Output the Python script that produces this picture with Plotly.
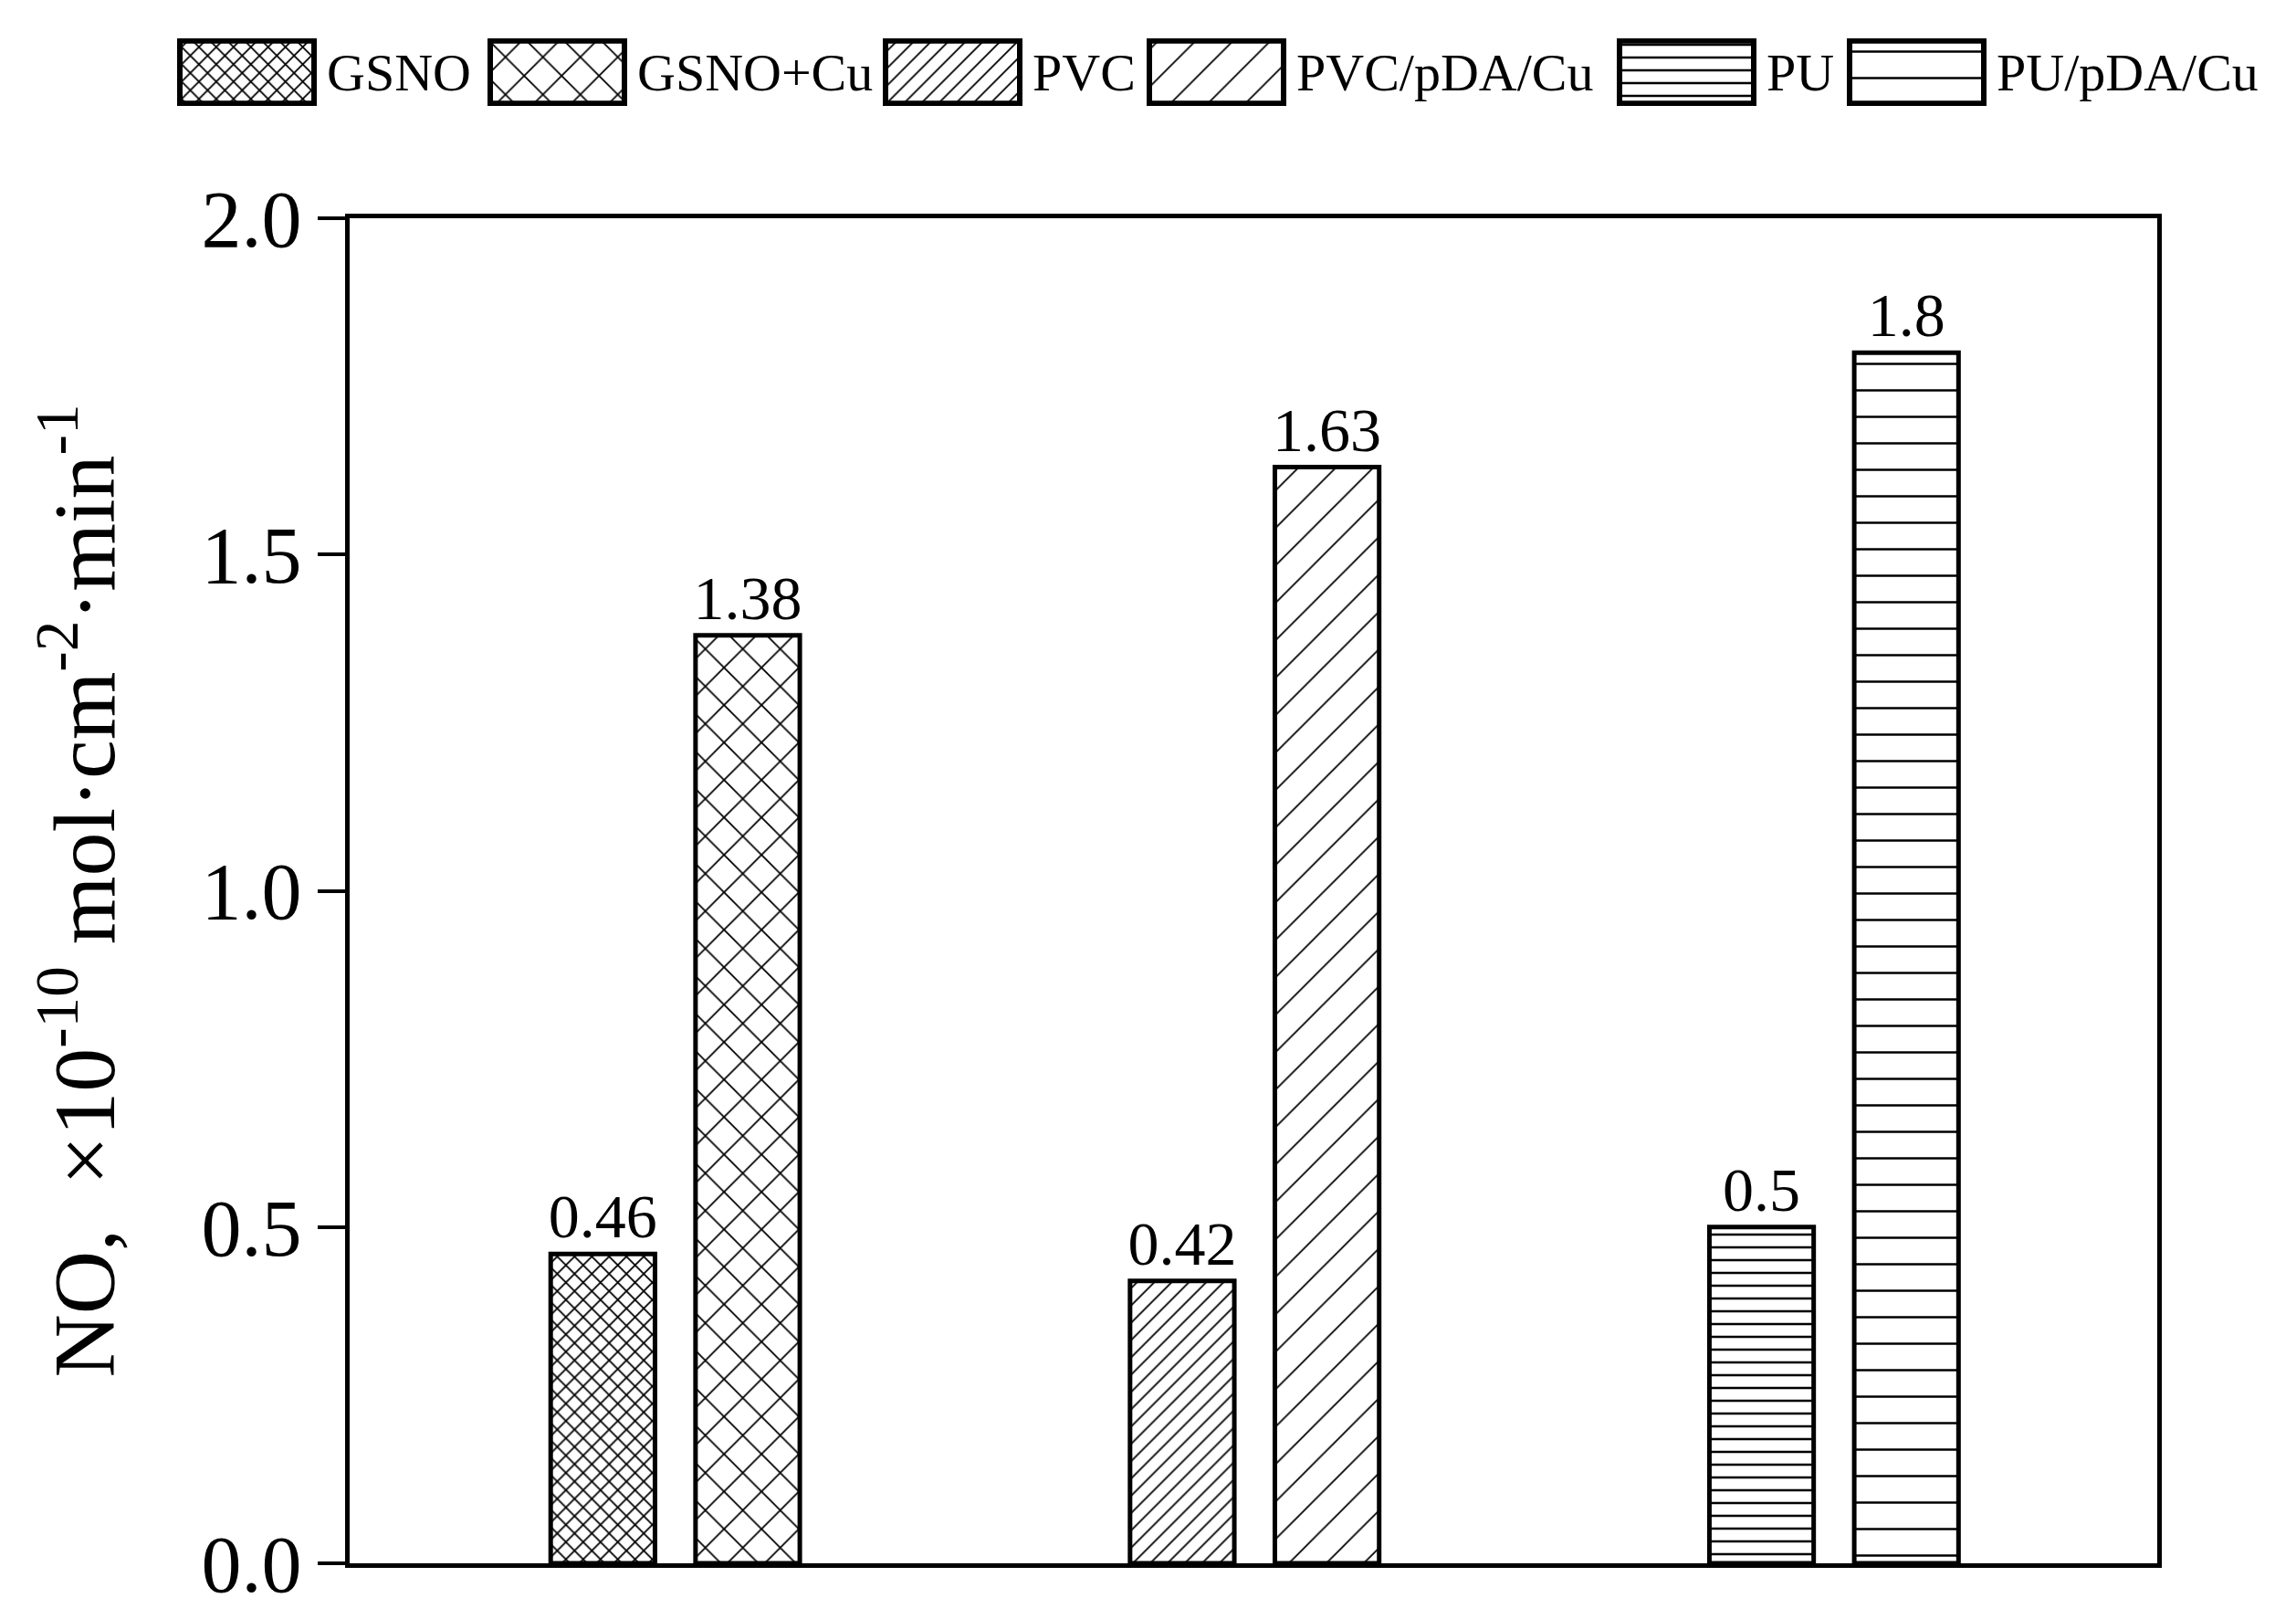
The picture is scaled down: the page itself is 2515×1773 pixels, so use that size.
import plotly.graph_objects as go

# ---- data ----
groups = ["GSNO", "PVC", "PU"]
series_names = ["GSNO", "GSNO+Cu", "PVC", "PVC/pDA/Cu", "PU", "PU/pDA/Cu"]
series_group = ["GSNO", "GSNO", "PVC", "PVC", "PU", "PU"]
series_values = [0.46, 1.38, 0.42, 1.63, 0.5, 1.8]
y_ticks = [0.0, 0.5, 1.0, 1.5, 2.0]

# ---- style ----
FONT = "Liberation Serif"
W, H = 2515, 1773
pattern_shape = ["x", "x", "/", "/", "-", "-"]
pattern_size = [13.4, 29, 13.4, 29, 14, 29]
pattern_solid = [0.25, 0.12, 0.134, 0.062, 0.18, 0.086]
bar_offset = [-0.215, 0.035, -0.215, 0.035, -0.215, 0.035]
bar_width = 0.18
LEGEND_LEFT = [197, 537, 970, 1259, 1774, 2026]
LEGEND_W = 147

fig = go.Figure()

for i, name in enumerate(series_names):
    def make_marker(lw):
        return dict(
            color="white",
            line=dict(color="black", width=lw),
            pattern=dict(shape=pattern_shape[i], size=pattern_size[i],
                         solidity=pattern_solid[i], fgcolor="black",
                         bgcolor="white", fillmode="replace"),
        )
    fig.add_trace(go.Bar(
        x=[series_group[i]], y=[series_values[i]], name=name,
        offset=bar_offset[i], width=bar_width,
        marker=make_marker(5), showlegend=False,
        text=[str(series_values[i])], texttemplate="%{text}",
        textposition="outside",
        textfont=dict(family=FONT, size=68, color="black"),
        constraintext="none", cliponaxis=False,
    ))
    # legend swatch
    fig.add_trace(go.Bar(
        x=[LEGEND_LEFT[i] + LEGEND_W / 2], y=[1], base=0, width=LEGEND_W,
        xaxis="x2", yaxis="y2", marker=make_marker(6), showlegend=False,
        hoverinfo="skip",
    ))
    fig.add_annotation(
        x=LEGEND_LEFT[i] + LEGEND_W + 12, y=0.5, xref="x2", yref="y2",
        text=name, showarrow=False, xanchor="left", yanchor="middle",
        font=dict(family=FONT, size=58, color="black"),
    )

fig.update_layout(
    template="none",
    width=W, height=H,
    margin=dict(l=0, r=0, t=0, b=0, pad=0),
    paper_bgcolor="white", plot_bgcolor="white",
    barmode="overlay",
    showlegend=False,
    font=dict(family=FONT, color="black"),
    xaxis=dict(
        domain=[383 / W, 2363 / W], type="category",
        categoryorder="array", categoryarray=groups,
        range=[-0.562, 2.558], showticklabels=False, ticks="",
        showline=True, mirror=True, linewidth=5, linecolor="black",
        showgrid=False, zeroline=False, automargin=False,
    ),
    yaxis=dict(
        domain=[1 - 1712 / H, 1 - 239 / H], range=[0, 2],
        tickvals=y_ticks, tickformat=".1f", ticks="outside",
        ticklen=30, tickwidth=4, tickcolor="black",
        tickfont=dict(family=FONT, size=88, color="black"),
        showline=True, mirror=True, linewidth=5, linecolor="black",
        showgrid=False, zeroline=False, automargin=False,
        title=dict(
            text="NO,  ×10<sup>-10</sup> mol·cm<sup>-2</sup>·min<sup>-1</sup>",
            font=dict(family=FONT, size=96, color="black"),
            standoff=64,
        ),
    ),
    xaxis2=dict(domain=[0, 1], range=[0, W], visible=False, anchor="y2",
                fixedrange=True),
    yaxis2=dict(domain=[1 - 116 / H, 1 - 42 / H], range=[-0.04, 1.04],
                visible=False, anchor="x2", fixedrange=True),
)

fig.write_html("out.html", config={"displayModeBar": False},
               post_script="document.body.style.margin='0';")
